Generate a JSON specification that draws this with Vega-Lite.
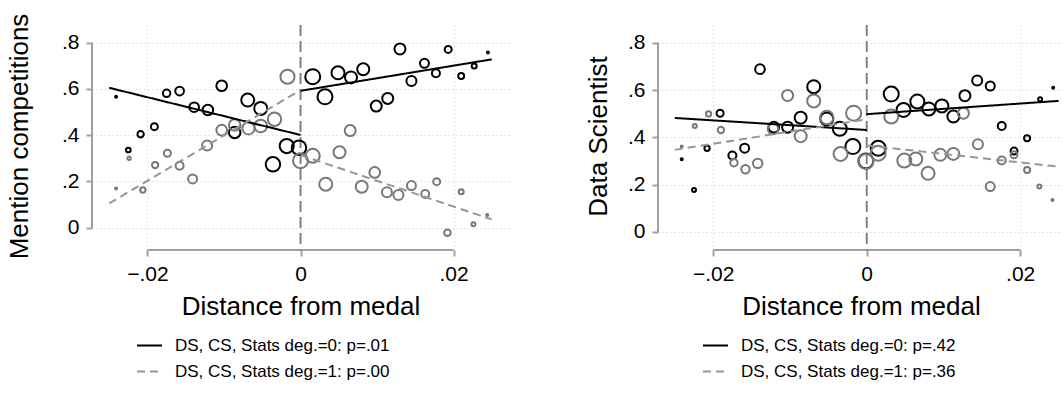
{
  "$schema": "https://vega.github.io/schema/vega-lite/v6.json",
  "background": "white",
  "padding": {"left": 5, "top": 13, "right": 0, "bottom": 0},
  "spacing": 149,
  "bounds": "flush",
  "config": {
    "font": "Liberation Sans",
    "view": {"stroke": null},
    "axis": {
      "domain": false,
      "grid": true,
      "gridColor": "#c8c8c8",
      "gridDash": [1, 3],
      "gridWidth": 1,
      "ticks": true,
      "tickColor": "#a0a0a0",
      "tickWidth": 2,
      "tickSize": 6,
      "labelFontSize": 21,
      "labelColor": "#000000",
      "titleFontSize": 26,
      "titleFontWeight": "normal",
      "titleColor": "#000000"
    },
    "axisX": {"labelPadding": 7, "titlePadding": 9},
    "axisY": {"labelPadding": 7, "titleBaseline": "middle", "titleAlign": "center", "titleAngle": 270, "titleY": 111},
    "legend": {
      "orient": "none",
      "legendX": 44,
      "legendY": 307,
      "direction": "vertical",
      "title": null,
      "labelFontSize": 17,
      "labelLimit": 0,
      "labelColor": "#000000",
      "symbolType": "stroke",
      "symbolSize": 625,
      "symbolStrokeWidth": 2,
      "rowPadding": 4,
      "labelOffset": 12
    }
  },
  "datasets": {
    "p1pts": [
      {"x": -0.0241, "y": 0.566, "deg": "0", "n": 4},
      {"x": -0.0225, "y": 0.336, "deg": "0", "n": 22},
      {"x": -0.0209, "y": 0.404, "deg": "0", "n": 40},
      {"x": -0.0191, "y": 0.437, "deg": "0", "n": 49},
      {"x": -0.0175, "y": 0.581, "deg": "0", "n": 56},
      {"x": -0.0158, "y": 0.591, "deg": "0", "n": 76},
      {"x": -0.0139, "y": 0.521, "deg": "0", "n": 94},
      {"x": -0.0121, "y": 0.509, "deg": "0", "n": 110},
      {"x": -0.0103, "y": 0.614, "deg": "0", "n": 114},
      {"x": -0.0086, "y": 0.412, "deg": "0", "n": 132},
      {"x": -0.0069, "y": 0.552, "deg": "0", "n": 169},
      {"x": -0.0052, "y": 0.516, "deg": "0", "n": 169},
      {"x": -0.0036, "y": 0.274, "deg": "0", "n": 210},
      {"x": -0.0018, "y": 0.353, "deg": "0", "n": 200},
      {"x": -0.0002, "y": 0.346, "deg": "0", "n": 210},
      {"x": 0.0016, "y": 0.653, "deg": "0", "n": 225},
      {"x": 0.0032, "y": 0.566, "deg": "0", "n": 225},
      {"x": 0.0049, "y": 0.670, "deg": "0", "n": 169},
      {"x": 0.0066, "y": 0.650, "deg": "0", "n": 144},
      {"x": 0.0082, "y": 0.685, "deg": "0", "n": 144},
      {"x": 0.0099, "y": 0.526, "deg": "0", "n": 121},
      {"x": 0.0114, "y": 0.559, "deg": "0", "n": 121},
      {"x": 0.0130, "y": 0.773, "deg": "0", "n": 121},
      {"x": 0.0145, "y": 0.634, "deg": "0", "n": 100},
      {"x": 0.0162, "y": 0.711, "deg": "0", "n": 81},
      {"x": 0.0177, "y": 0.668, "deg": "0", "n": 64},
      {"x": 0.0193, "y": 0.771, "deg": "0", "n": 49},
      {"x": 0.0210, "y": 0.656, "deg": "0", "n": 36},
      {"x": 0.0227, "y": 0.699, "deg": "0", "n": 25},
      {"x": 0.0245, "y": 0.758, "deg": "0", "n": 4},
      {"x": -0.0241, "y": 0.170, "deg": "1", "n": 4},
      {"x": -0.0224, "y": 0.300, "deg": "1", "n": 12},
      {"x": -0.0206, "y": 0.163, "deg": "1", "n": 28},
      {"x": -0.0190, "y": 0.271, "deg": "1", "n": 40},
      {"x": -0.0174, "y": 0.322, "deg": "1", "n": 49},
      {"x": -0.0158, "y": 0.268, "deg": "1", "n": 64},
      {"x": -0.0141, "y": 0.211, "deg": "1", "n": 81},
      {"x": -0.0122, "y": 0.355, "deg": "1", "n": 100},
      {"x": -0.0103, "y": 0.422, "deg": "1", "n": 114},
      {"x": -0.0086, "y": 0.444, "deg": "1", "n": 132},
      {"x": -0.0068, "y": 0.430, "deg": "1", "n": 150},
      {"x": -0.0052, "y": 0.440, "deg": "1", "n": 160},
      {"x": -0.0034, "y": 0.469, "deg": "1", "n": 180},
      {"x": -0.0017, "y": 0.653, "deg": "1", "n": 200},
      {"x": 0.0000, "y": 0.290, "deg": "1", "n": 225},
      {"x": 0.0016, "y": 0.311, "deg": "1", "n": 196},
      {"x": 0.0033, "y": 0.188, "deg": "1", "n": 169},
      {"x": 0.0051, "y": 0.326, "deg": "1", "n": 144},
      {"x": 0.0065, "y": 0.420, "deg": "1", "n": 121},
      {"x": 0.0080, "y": 0.177, "deg": "1", "n": 144},
      {"x": 0.0097, "y": 0.239, "deg": "1", "n": 114},
      {"x": 0.0113, "y": 0.153, "deg": "1", "n": 100},
      {"x": 0.0128, "y": 0.141, "deg": "1", "n": 100},
      {"x": 0.0145, "y": 0.182, "deg": "1", "n": 81},
      {"x": 0.0163, "y": 0.146, "deg": "1", "n": 64},
      {"x": 0.0178, "y": 0.199, "deg": "1", "n": 49},
      {"x": 0.0192, "y": -0.022, "deg": "1", "n": 42},
      {"x": 0.0210, "y": 0.156, "deg": "1", "n": 25},
      {"x": 0.0226, "y": 0.015, "deg": "1", "n": 16},
      {"x": 0.0244, "y": 0.055, "deg": "1", "n": 4}
    ],
    "p1lines": [
      {"lab": "DS, CS, Stats deg.=0: p=.01", "side": "L", "x": -0.025, "y": 0.605},
      {"lab": "DS, CS, Stats deg.=0: p=.01", "side": "L", "x": 0, "y": 0.401},
      {"lab": "DS, CS, Stats deg.=0: p=.01", "side": "R", "x": 0, "y": 0.592},
      {"lab": "DS, CS, Stats deg.=0: p=.01", "side": "R", "x": 0.025, "y": 0.728},
      {"lab": "DS, CS, Stats deg.=1: p=.00", "side": "L", "x": -0.025, "y": 0.105},
      {"lab": "DS, CS, Stats deg.=1: p=.00", "side": "L", "x": 0, "y": 0.595},
      {"lab": "DS, CS, Stats deg.=1: p=.00", "side": "R", "x": 0, "y": 0.314},
      {"lab": "DS, CS, Stats deg.=1: p=.00", "side": "R", "x": 0.025, "y": 0.036}
    ],
    "p2pts": [
      {"x": -0.0241, "y": 0.307, "deg": "0", "n": 4},
      {"x": -0.0225, "y": 0.178, "deg": "0", "n": 16},
      {"x": -0.0208, "y": 0.354, "deg": "0", "n": 28},
      {"x": -0.0191, "y": 0.502, "deg": "0", "n": 49},
      {"x": -0.0175, "y": 0.323, "deg": "0", "n": 64},
      {"x": -0.0159, "y": 0.354, "deg": "0", "n": 81},
      {"x": -0.0139, "y": 0.688, "deg": "0", "n": 94},
      {"x": -0.0121, "y": 0.443, "deg": "0", "n": 114},
      {"x": -0.0103, "y": 0.443, "deg": "0", "n": 121},
      {"x": -0.0086, "y": 0.483, "deg": "0", "n": 144},
      {"x": -0.0069, "y": 0.614, "deg": "0", "n": 169},
      {"x": -0.0052, "y": 0.478, "deg": "0", "n": 169},
      {"x": -0.0035, "y": 0.436, "deg": "0", "n": 196},
      {"x": -0.0018, "y": 0.361, "deg": "0", "n": 225},
      {"x": -0.0001, "y": 0.300, "deg": "0", "n": 225},
      {"x": 0.0015, "y": 0.354, "deg": "0", "n": 225},
      {"x": 0.0032, "y": 0.583, "deg": "0", "n": 225},
      {"x": 0.0048, "y": 0.516, "deg": "0", "n": 196},
      {"x": 0.0066, "y": 0.551, "deg": "0", "n": 196},
      {"x": 0.0081, "y": 0.520, "deg": "0", "n": 169},
      {"x": 0.0098, "y": 0.533, "deg": "0", "n": 169},
      {"x": 0.0113, "y": 0.488, "deg": "0", "n": 144},
      {"x": 0.0128, "y": 0.576, "deg": "0", "n": 121},
      {"x": 0.0144, "y": 0.640, "deg": "0", "n": 100},
      {"x": 0.0161, "y": 0.617, "deg": "0", "n": 81},
      {"x": 0.0176, "y": 0.448, "deg": "0", "n": 64},
      {"x": 0.0192, "y": 0.342, "deg": "0", "n": 49},
      {"x": 0.0209, "y": 0.396, "deg": "0", "n": 36},
      {"x": 0.0226, "y": 0.561, "deg": "0", "n": 16},
      {"x": 0.0243, "y": 0.610, "deg": "0", "n": 4},
      {"x": -0.0241, "y": 0.361, "deg": "1", "n": 4},
      {"x": -0.0224, "y": 0.448, "deg": "1", "n": 16},
      {"x": -0.0206, "y": 0.499, "deg": "1", "n": 28},
      {"x": -0.0190, "y": 0.431, "deg": "1", "n": 40},
      {"x": -0.0173, "y": 0.293, "deg": "1", "n": 56},
      {"x": -0.0158, "y": 0.265, "deg": "1", "n": 70},
      {"x": -0.0142, "y": 0.290, "deg": "1", "n": 90},
      {"x": -0.0122, "y": 0.435, "deg": "1", "n": 110},
      {"x": -0.0103, "y": 0.577, "deg": "1", "n": 121},
      {"x": -0.0086, "y": 0.405, "deg": "1", "n": 144},
      {"x": -0.0069, "y": 0.554, "deg": "1", "n": 169},
      {"x": -0.0052, "y": 0.484, "deg": "1", "n": 180},
      {"x": -0.0034, "y": 0.330, "deg": "1", "n": 196},
      {"x": -0.0017, "y": 0.502, "deg": "1", "n": 225},
      {"x": -0.0001, "y": 0.298, "deg": "1", "n": 225},
      {"x": 0.0015, "y": 0.333, "deg": "1", "n": 225},
      {"x": 0.0032, "y": 0.488, "deg": "1", "n": 196},
      {"x": 0.0049, "y": 0.302, "deg": "1", "n": 196},
      {"x": 0.0064, "y": 0.309, "deg": "1", "n": 169},
      {"x": 0.0080, "y": 0.248, "deg": "1", "n": 169},
      {"x": 0.0096, "y": 0.326, "deg": "1", "n": 144},
      {"x": 0.0113, "y": 0.330, "deg": "1", "n": 144},
      {"x": 0.0126, "y": 0.502, "deg": "1", "n": 121},
      {"x": 0.0145, "y": 0.371, "deg": "1", "n": 100},
      {"x": 0.0161, "y": 0.192, "deg": "1", "n": 81},
      {"x": 0.0176, "y": 0.302, "deg": "1", "n": 64},
      {"x": 0.0192, "y": 0.326, "deg": "1", "n": 49},
      {"x": 0.0209, "y": 0.262, "deg": "1", "n": 36},
      {"x": 0.0225, "y": 0.192, "deg": "1", "n": 16},
      {"x": 0.0242, "y": 0.135, "deg": "1", "n": 4}
    ],
    "p2lines": [
      {"lab": "DS, CS, Stats deg.=0: p=.42", "side": "L", "x": -0.025, "y": 0.482},
      {"lab": "DS, CS, Stats deg.=0: p=.42", "side": "L", "x": 0, "y": 0.431},
      {"lab": "DS, CS, Stats deg.=0: p=.42", "side": "R", "x": 0, "y": 0.498},
      {"lab": "DS, CS, Stats deg.=0: p=.42", "side": "R", "x": 0.025, "y": 0.554},
      {"lab": "DS, CS, Stats deg.=1: p=.36", "side": "L", "x": -0.025, "y": 0.347},
      {"lab": "DS, CS, Stats deg.=1: p=.36", "side": "L", "x": 0, "y": 0.476},
      {"lab": "DS, CS, Stats deg.=1: p=.36", "side": "R", "x": 0, "y": 0.366},
      {"lab": "DS, CS, Stats deg.=1: p=.36", "side": "R", "x": 0.025, "y": 0.276}
    ]
  },
  "resolve": {
    "scale": {"x": "independent", "y": "independent", "color": "independent", "strokeDash": "independent", "stroke": "independent", "size": "independent"},
    "axis": {"x": "independent", "y": "independent"},
    "legend": {"color": "independent", "strokeDash": "independent"}
  },
  "hconcat": [
    {
      "width": 417,
      "height": 225,
      "layer": [
        {
          "data": {"values": [{}]},
          "mark": {"type": "rule", "color": "#a0a0a0", "strokeWidth": 2},
          "encoding": {
            "x": {"datum": -0.02725, "type": "quantitative", "title": "Distance from medal", "scale": {"domain": [-0.02725, 0.02725], "nice": false, "zero": false}},
            "y": {"datum": 0, "type": "quantitative", "title": "Mention competitions", "scale": {"domain": [-0.0964, 0.8766], "nice": false, "zero": false}},
            "y2": {"datum": 0.8}
          }
        },
        {
          "data": {"values": [{}]},
          "mark": {"type": "rule", "color": "#a0a0a0", "strokeWidth": 2},
          "encoding": {
            "x": {"datum": -0.02, "type": "quantitative", "title": "Distance from medal", "scale": {"domain": [-0.02725, 0.02725], "nice": false, "zero": false}},
            "x2": {"datum": 0.02},
            "y": {"datum": -0.0964, "type": "quantitative", "title": "Mention competitions", "scale": {"domain": [-0.0964, 0.8766], "nice": false, "zero": false}}
          }
        },
        {
          "data": {"values": [{}]},
          "mark": {"type": "rule", "color": "#787878", "strokeWidth": 1.8, "strokeDash": [11, 5]},
          "encoding": {
            "x": {"datum": 0, "type": "quantitative", "title": "Distance from medal", "scale": {"domain": [-0.02725, 0.02725], "nice": false, "zero": false}}
          }
        },
        {
          "data": {"name": "p1pts"},
          "mark": {"type": "point", "shape": "circle", "filled": false, "strokeWidth": 2, "opacity": 1},
          "encoding": {
            "x": {"field": "x", "type": "quantitative", "title": "Distance from medal", "scale": {"domain": [-0.02725, 0.02725], "nice": false, "zero": false},
                  "axis": {"values": [-0.02, 0, 0.02], "labelExpr": "datum.value == 0 ? '0' : replace(format(datum.value, '.2f'), '0.', '.')"}},
            "y": {"field": "y", "type": "quantitative", "title": "Mention competitions", "scale": {"domain": [-0.0964, 0.8766], "nice": false, "zero": false},
                  "axis": {"values": [0, 0.2, 0.4, 0.6, 0.8], "labelExpr": "datum.value == 0 ? '0' : replace(format(datum.value, '.1f'), '0.', '.')", "titleX": -73}},
            "stroke": {"field": "deg", "type": "nominal", "scale": {"domain": ["0", "1"], "range": ["#000000", "#787878"]}, "legend": null},
            "size": {"field": "n", "type": "quantitative", "scale": {"type": "linear", "domain": [0, 225], "range": [0, 225]}, "legend": null}
          }
        },
        {
          "data": {"name": "p1lines"},
          "mark": {"type": "line", "strokeWidth": 2},
          "encoding": {
            "x": {"field": "x", "type": "quantitative", "title": "Distance from medal", "scale": {"domain": [-0.02725, 0.02725], "nice": false, "zero": false}},
            "y": {"field": "y", "type": "quantitative", "title": "Mention competitions", "scale": {"domain": [-0.0964, 0.8766], "nice": false, "zero": false}},
            "detail": {"field": "side"},
            "color": {"field": "lab", "type": "nominal", "scale": {"domain": ["DS, CS, Stats deg.=0: p=.01", "DS, CS, Stats deg.=1: p=.00"], "range": ["#000000", "#969696"]}},
            "strokeDash": {"field": "lab", "type": "nominal", "scale": {"domain": ["DS, CS, Stats deg.=0: p=.01", "DS, CS, Stats deg.=1: p=.00"], "range": [[1, 0], [8, 5]]}}
          }
        }
      ]
    },
    {
      "width": 406,
      "height": 225,
      "layer": [
        {
          "data": {"values": [{}]},
          "mark": {"type": "rule", "color": "#a0a0a0", "strokeWidth": 2},
          "encoding": {
            "x": {"datum": -0.02719, "type": "quantitative", "title": "Distance from medal", "scale": {"domain": [-0.02719, 0.02571], "nice": false, "zero": false}},
            "y": {"datum": 0, "type": "quantitative", "title": "Data Scientist", "scale": {"domain": [-0.0761, 0.8748], "nice": false, "zero": false}},
            "y2": {"datum": 0.8}
          }
        },
        {
          "data": {"values": [{}]},
          "mark": {"type": "rule", "color": "#a0a0a0", "strokeWidth": 2},
          "encoding": {
            "x": {"datum": -0.02, "type": "quantitative", "title": "Distance from medal", "scale": {"domain": [-0.02719, 0.02571], "nice": false, "zero": false}},
            "x2": {"datum": 0.02},
            "y": {"datum": -0.0761, "type": "quantitative", "title": "Data Scientist", "scale": {"domain": [-0.0761, 0.8748], "nice": false, "zero": false}}
          }
        },
        {
          "data": {"values": [{}]},
          "mark": {"type": "rule", "color": "#787878", "strokeWidth": 1.8, "strokeDash": [11, 5]},
          "encoding": {
            "x": {"datum": 0, "type": "quantitative", "title": "Distance from medal", "scale": {"domain": [-0.02719, 0.02571], "nice": false, "zero": false}}
          }
        },
        {
          "data": {"name": "p2pts"},
          "mark": {"type": "point", "shape": "circle", "filled": false, "strokeWidth": 2, "opacity": 1},
          "encoding": {
            "x": {"field": "x", "type": "quantitative", "title": "Distance from medal", "scale": {"domain": [-0.02719, 0.02571], "nice": false, "zero": false},
                  "axis": {"values": [-0.02, 0, 0.02], "labelExpr": "datum.value == 0 ? '0' : replace(format(datum.value, '.2f'), '0.', '.')"}},
            "y": {"field": "y", "type": "quantitative", "title": "Data Scientist", "scale": {"domain": [-0.0761, 0.8748], "nice": false, "zero": false},
                  "axis": {"values": [0, 0.2, 0.4, 0.6, 0.8], "labelExpr": "datum.value == 0 ? '0' : replace(format(datum.value, '.1f'), '0.', '.')", "titleX": -60}},
            "stroke": {"field": "deg", "type": "nominal", "scale": {"domain": ["0", "1"], "range": ["#000000", "#787878"]}, "legend": null},
            "size": {"field": "n", "type": "quantitative", "scale": {"type": "linear", "domain": [0, 225], "range": [0, 225]}, "legend": null}
          }
        },
        {
          "data": {"name": "p2lines"},
          "mark": {"type": "line", "strokeWidth": 2},
          "encoding": {
            "x": {"field": "x", "type": "quantitative", "title": "Distance from medal", "scale": {"domain": [-0.02719, 0.02571], "nice": false, "zero": false}},
            "y": {"field": "y", "type": "quantitative", "title": "Data Scientist", "scale": {"domain": [-0.0761, 0.8748], "nice": false, "zero": false}},
            "detail": {"field": "side"},
            "color": {"field": "lab", "type": "nominal", "scale": {"domain": ["DS, CS, Stats deg.=0: p=.42", "DS, CS, Stats deg.=1: p=.36"], "range": ["#000000", "#969696"]}},
            "strokeDash": {"field": "lab", "type": "nominal", "scale": {"domain": ["DS, CS, Stats deg.=0: p=.42", "DS, CS, Stats deg.=1: p=.36"], "range": [[1, 0], [8, 5]]}}
          }
        }
      ]
    }
  ]
}
